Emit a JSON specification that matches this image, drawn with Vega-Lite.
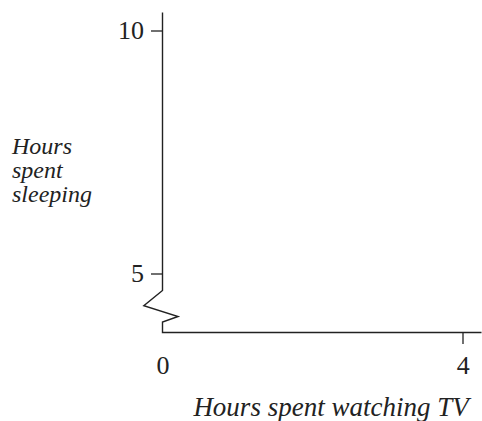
{
  "$schema": "https://vega.github.io/schema/vega-lite/v6.json",
  "autosize": {"type": "none"},
  "padding": {"left": 162.5, "top": 12.5, "right": 0.5, "bottom": 88.5},
  "width": 319,
  "height": 320,
  "background": "white",
  "config": {"view": {"stroke": null}},
  "data": {
    "values": [
      {"x": 0, "y": 10.37, "o": 1},
      {"x": 0, "y": 4.658, "o": 2},
      {"x": -0.249, "y": 4.344, "o": 3},
      {"x": 0.2076, "y": 4.124, "o": 4},
      {"x": 0, "y": 4.009, "o": 5},
      {"x": 0, "y": 3.795, "o": 6},
      {"x": 4.25, "y": 3.795, "o": 7}
    ]
  },
  "mark": {"type": "line", "color": "#222", "strokeWidth": 1.4, "clip": false},
  "encoding": {
    "order": {"field": "o", "type": "quantitative"},
    "x": {
      "field": "x", "type": "quantitative",
      "scale": {"domain": [0, 4.25], "nice": false, "zero": false},
      "axis": {
        "values": [0, 4], "domain": false, "grid": false,
        "tickSize": 11, "tickWidth": 1.3, "tickColor": "#222",
        "tickOpacity": {"condition": {"test": "datum.value == 0", "value": 0}, "value": 1},
        "labelFont": "Liberation Serif", "labelFontSize": 26, "labelColor": "#222", "labelPadding": 9, "labelFlush": false,
        "title": "Hours spent watching TV",
        "titleFont": "Liberation Serif", "titleFontSize": 27, "titleFontStyle": "italic", "titleFontWeight": "normal", "titleColor": "#222",
        "titleAlign": "center", "titleBaseline": "alphabetic", "titleX": 168, "titleY": 82.5
      }
    },
    "y": {
      "field": "y", "type": "quantitative",
      "scale": {"domain": [3.795, 10.37], "nice": false, "zero": false},
      "axis": {
        "values": [5, 10], "domain": false, "grid": false,
        "tickSize": 12, "tickWidth": 1.3, "tickColor": "#222",
        "labelFont": "Liberation Serif", "labelFontSize": 26, "labelColor": "#222", "labelPadding": 7,
        "title": ["Hours", "spent", "sleeping"],
        "titleFont": "Liberation Serif", "titleFontSize": 24, "titleFontStyle": "italic", "titleFontWeight": "normal", "titleColor": "#222",
        "titleAngle": 0, "titleAlign": "left", "titleBaseline": "alphabetic", "titleLineHeight": 24,
        "titleX": -151, "titleY": 140.5
      }
    }
  }
}
